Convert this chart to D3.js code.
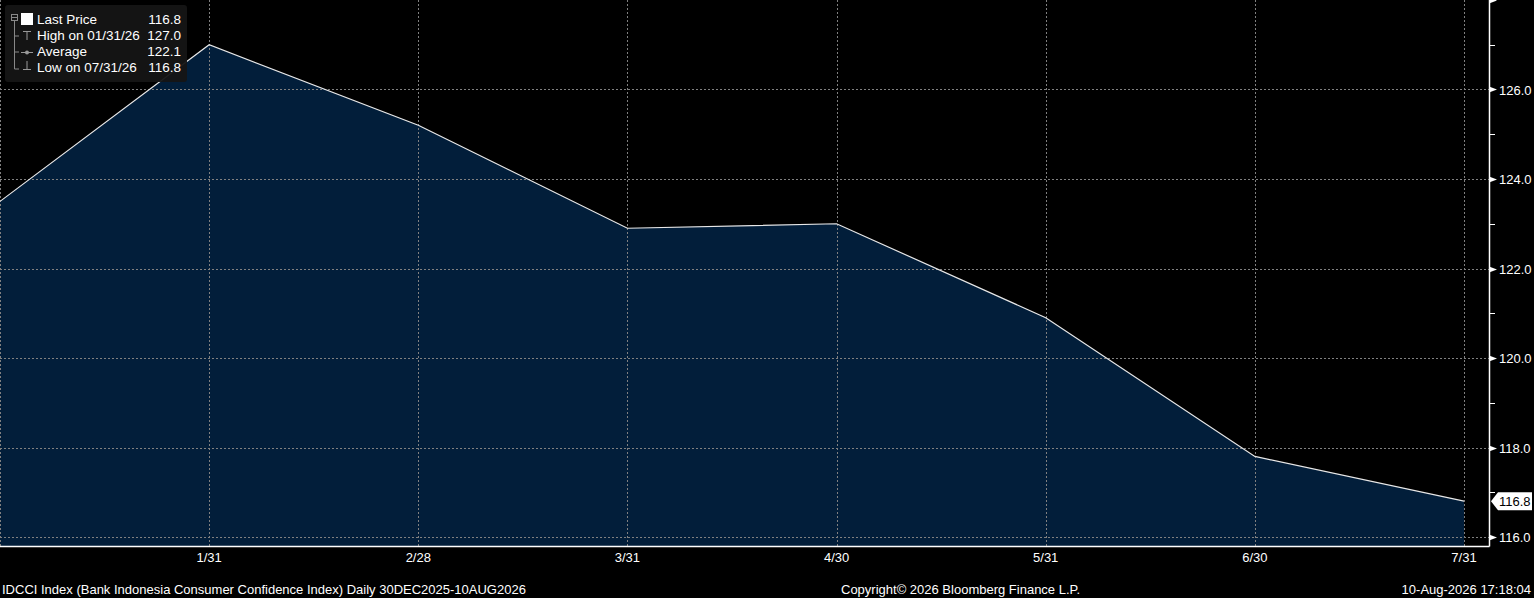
<!DOCTYPE html>
<html>
<head>
<meta charset="utf-8">
<script src="https://cdn.jsdelivr.net/npm/d3@7"></script>
<style>
  body { margin: 0; background: #000; }
  svg { display: block; }
  text { font-family: "Liberation Sans", Arial, sans-serif; }
</style>
</head>
<body>
<svg id="chart"></svg>
<script>
var dates = ['12/31', '1/31', '2/28', '3/31', '4/30', '5/31', '6/30', '7/31']
var values = [123.5, 127.0, 125.2, 122.9, 123.0, 120.9, 117.8, 116.8]
var yTicks = [116, 118, 120, 122, 124, 126]
var yMinor = [117, 119, 121, 123, 125, 127]
var legendRows = [
    ['Last Price', '116.8'],
    ['High on 01/31/26', '127.0'],
    ['Average', '122.1'],
    ['Low on 07/31/26', '116.8']
]

var W = 1534, H = 598
var plot = { left: 0, right: 1489, top: 0, bottom: 546 }

var svg = d3.select('#chart').attr('width', W).attr('height', H)
svg.append('rect').attr('width', W).attr('height', H).attr('fill', '#000')

var x = d3.scalePoint().domain(dates).range([0, 1464])
var y = d3.scaleLinear().domain([116, 128]).range([537, 0])

// area + line
var area = d3.area()
    .x(function(d, i) { return x(dates[i]) })
    .y0(plot.bottom)
    .y1(function(d) { return y(d) })
var line = d3.line()
    .x(function(d, i) { return x(dates[i]) })
    .y(function(d) { return y(d) })

svg.append('path').datum(values).attr('d', area).attr('fill', '#021e3a')

// grid
svg.append('g').selectAll('line').data(yTicks).join('line')
    .attr('x1', plot.left).attr('x2', plot.right)
    .attr('y1', function(d) { return Math.round(y(d)) + 0.5 })
    .attr('y2', function(d) { return Math.round(y(d)) + 0.5 })
    .attr('stroke', '#808080').attr('stroke-dasharray', '2,2')
svg.append('g').selectAll('line').data(dates).join('line')
    .attr('x1', function(d) { return Math.round(x(d)) + 0.5 })
    .attr('x2', function(d) { return Math.round(x(d)) + 0.5 })
    .attr('y1', plot.top).attr('y2', plot.bottom)
    .attr('stroke', '#808080').attr('stroke-dasharray', '2,2')

svg.append('path').datum(values).attr('d', line)
    .attr('fill', 'none').attr('stroke', '#e8e8e8').attr('stroke-width', 1.2)

// frame: bottom and right axis
svg.append('line').attr('x1', 0).attr('x2', plot.right + 0.5)
    .attr('y1', plot.bottom + 0.5).attr('y2', plot.bottom + 0.5)
    .attr('stroke', '#fff').attr('stroke-width', 1.5)
svg.append('line').attr('x1', plot.right + 0.5).attr('x2', plot.right + 0.5)
    .attr('y1', 0).attr('y2', plot.bottom + 0.5)
    .attr('stroke', '#fff').attr('stroke-width', 1.5)

// x labels
svg.append('g').selectAll('text').data(dates.slice(1)).join('text')
    .attr('x', function(d) { return x(d) })
    .attr('y', 562)
    .attr('text-anchor', 'middle')
    .attr('fill', '#fff').attr('font-size', '13px')
    .text(function(d) { return d })

// y axis ticks
var yAxis = svg.append('g')
yAxis.selectAll('path.arrow').data(yTicks.concat([128])).join('path')
    .attr('d', function(d) {
        var yy = Math.round(y(d)) + 0.5
        return 'M' + (plot.right) + ',' + (yy - 3) + 'L' + (plot.right + 8) + ',' + yy + 'L' + plot.right + ',' + (yy + 3) + 'Z'
    })
    .attr('fill', '#fff')
yAxis.selectAll('line.minor').data(yMinor).join('line')
    .attr('x1', plot.right).attr('x2', plot.right + 6)
    .attr('y1', function(d) { return Math.round(y(d)) + 0.5 })
    .attr('y2', function(d) { return Math.round(y(d)) + 0.5 })
    .attr('stroke', '#fff')
yAxis.selectAll('text').data(yTicks).join('text')
    .attr('x', 1499)
    .attr('y', function(d) { return y(d) + 5 })
    .attr('fill', '#fff').attr('font-size', '13px')
    .text(function(d) { return d.toFixed(1) })

// last value tag
var lastY = y(values[values.length - 1])
svg.append('path')
    .attr('d', 'M1491,' + lastY + 'L1498,' + (lastY - 9) + 'L1532,' + (lastY - 9) + 'L1532,' + (lastY + 9) + 'L1498,' + (lastY + 9) + 'Z')
    .attr('fill', '#fff')
svg.append('text').attr('x', 1499).attr('y', lastY + 5)
    .attr('fill', '#000').attr('font-size', '13px')
    .text(values[values.length - 1].toFixed(1))

// legend
var lg = svg.append('g')
lg.append('rect').attr('x', 5).attr('y', 5).attr('width', 182).attr('height', 77)
    .attr('rx', 3).attr('fill', '#151515').attr('opacity', 0.95)
lg.append('rect').attr('x', 11.5).attr('y', 14.5).attr('width', 6).attr('height', 6)
    .attr('fill', 'none').attr('stroke', '#888')
lg.append('line').attr('x1', 12).attr('x2', 17).attr('y1', 17.5).attr('y2', 17.5).attr('stroke', '#888')
lg.append('path').attr('d', 'M14.5,21V69H19').attr('fill', 'none').attr('stroke', '#888')
lg.append('path').attr('d', 'M14.5,36H19M14.5,52H19').attr('fill', 'none').attr('stroke', '#888')
lg.append('rect').attr('x', 21).attr('y', 13).attr('width', 12).attr('height', 12).attr('fill', '#fff')
lg.append('path').attr('d', 'M23,31.5H31M27,31.5V40').attr('fill', 'none').attr('stroke', '#999')
lg.append('path').attr('d', 'M21,52.5H33').attr('fill', 'none').attr('stroke', '#999')
lg.append('circle').attr('cx', 27).attr('cy', 52.5).attr('r', 2).attr('fill', '#999')
lg.append('path').attr('d', 'M27,61V69.5M23,69.5H31').attr('fill', 'none').attr('stroke', '#999')
lg.selectAll('text.name').data(legendRows).join('text')
    .attr('x', 37).attr('y', function(d, i) { return 24 + i * 16 })
    .attr('fill', '#fff').attr('font-size', '13.5px')
    .text(function(d) { return d[0] })
lg.selectAll('text.val').data(legendRows).join('text')
    .attr('x', 181).attr('y', function(d, i) { return 24 + i * 16 })
    .attr('text-anchor', 'end')
    .attr('fill', '#fff').attr('font-size', '13.5px')
    .text(function(d) { return d[1] })

// footer
svg.append('text').attr('x', 2).attr('y', 594)
    .attr('fill', '#fff').attr('font-size', '13px')
    .text('IDCCI Index (Bank Indonesia Consumer Confidence Index) Daily 30DEC2025-10AUG2026')
svg.append('text').attr('x', 841).attr('y', 594)
    .attr('fill', '#fff').attr('font-size', '13px')
    .text('Copyright\u00a9 2026 Bloomberg Finance L.P.')
svg.append('text').attr('x', 1531).attr('y', 594)
    .attr('text-anchor', 'end')
    .attr('fill', '#fff').attr('font-size', '13px')
    .text('10-Aug-2026 17:18:04')
</script>
</body>
</html>
